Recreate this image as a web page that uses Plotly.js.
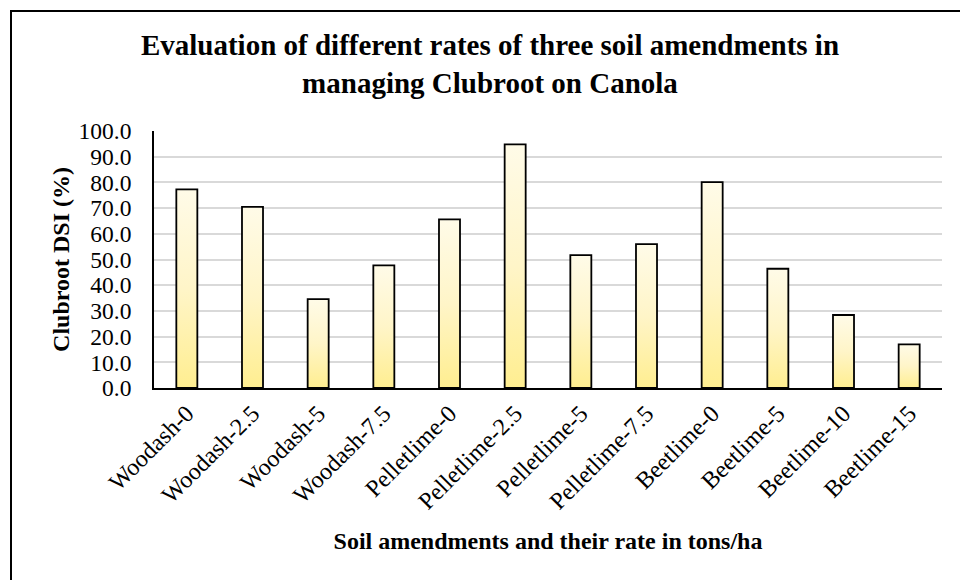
<!DOCTYPE html>
<html>
<head>
<meta charset="utf-8">
<script src="https://cdn.plot.ly/plotly-3.0.1.min.js"></script>
<style>
  html, body { margin: 0; padding: 0; background: #fff; }
  #wrap { position: relative; width: 960px; height: 580px; }
  #chart { position: absolute; left: 0; top: 0; width: 960px; height: 580px; }
  #frame { position: absolute; left: 10px; top: 10px; width: 960px; height: 580px;
           border-left: 2px solid #000; border-top: 2px solid #000; pointer-events: none; }
</style>
</head>
<body>
<div id="wrap">
  <div id="chart"></div>
  <div id="frame"></div>
</div>
<script>
const categories = ["Woodash-0", "Woodash-2.5", "Woodash-5", "Woodash-7.5",
                    "Pelletlime-0", "Pelletlime-2.5", "Pelletlime-5", "Pelletlime-7.5",
                    "Beetlime-0", "Beetlime-5", "Beetlime-10", "Beetlime-15"];
const dsiValues = [77.3, 70.5, 34.6, 47.7, 65.6, 94.8, 51.7, 56.0, 80.1, 46.4, 28.4, 17.0];
const yTickVals = [0, 10, 20, 30, 40, 50, 60, 70, 80, 90, 100];
const yTickText = ["0.0", "10.0", "20.0", "30.0", "40.0", "50.0", "60.0", "70.0", "80.0", "90.0", "100.0"];

const serif = "'Liberation Serif', 'Times New Roman', serif";

const trace = {
  type: "bar",
  x: categories,
  y: dsiValues,
  marker: { color: "#fff5c0", line: { color: "#000", width: 1.8 } },
  hoverinfo: "x+y"
};

const layout = {
  width: 960, height: 580,
  margin: { l: 154, r: 18, t: 131, b: 192 },
  paper_bgcolor: "#fff", plot_bgcolor: "#fff",
  bargap: 0.68,
  showlegend: false,
  font: { family: serif, color: "#000" },
  title: {
    text: "<b>Evaluation of different rates of three soil amendments in<br>managing Clubroot on Canola</b>",
    font: { family: serif, size: 29, color: "#000" },
    xref: "container", x: 0.5104, xanchor: "center",
    yref: "container", y: 1 - 55 / 580, yanchor: "top"
  },
  xaxis: {
    type: "category",
    tickangle: -45,
    tickfont: { family: serif, size: 24, color: "#000" },
    showline: true, linecolor: "#000", linewidth: 1.8,
    ticks: "", showgrid: false,
    title: { text: "<b>Soil amendments and their rate in tons/ha</b>",
             font: { family: serif, size: 24, color: "#000" }, standoff: 19 }
  },
  yaxis: {
    range: [0, 100],
    tickvals: yTickVals, ticktext: yTickText,
    tickfont: { family: serif, size: 23.5, color: "#000" },
    showline: true, linecolor: "#000", linewidth: 1.8,
    showgrid: true, gridcolor: "#d9d9d9", gridwidth: 1.8,
    zeroline: false, ticks: "", ticklabelstandoff: 16,
    title: { text: "<b>Clubroot DSI (%)</b>",
             font: { family: serif, size: 24, color: "#000" }, standoff: 2 }
  }
};

function applyGradient(gd) {
  const svg = gd.querySelector("svg.main-svg");
  if (!svg) return;
  const NS = "http://www.w3.org/2000/svg";
  let defs = svg.querySelector("defs");
  if (!defs) { defs = document.createElementNS(NS, "defs"); svg.insertBefore(defs, svg.firstChild); }
  if (!svg.querySelector("#barGrad")) {
    const g = document.createElementNS(NS, "linearGradient");
    g.setAttribute("id", "barGrad");
    g.setAttribute("x1", "0"); g.setAttribute("y1", "0");
    g.setAttribute("x2", "0"); g.setAttribute("y2", "1");
    [["0", "#fffbe8"], ["0.5", "#fff5c8"], ["1", "#ffee90"]].forEach(([o, c]) => {
      const s = document.createElementNS(NS, "stop");
      s.setAttribute("offset", o); s.setAttribute("stop-color", c);
      g.appendChild(s);
    });
    defs.appendChild(g);
  }
  gd.querySelectorAll(".trace.bars .point path").forEach(p => {
    p.style.fill = "url(#barGrad)";
  });
}

const gd = document.getElementById("chart");
Plotly.newPlot(gd, [trace], layout, { displayModeBar: false, responsive: false })
  .then(() => applyGradient(gd));
gd.on && gd.on("plotly_afterplot", () => applyGradient(gd));
</script>
</body>
</html>
